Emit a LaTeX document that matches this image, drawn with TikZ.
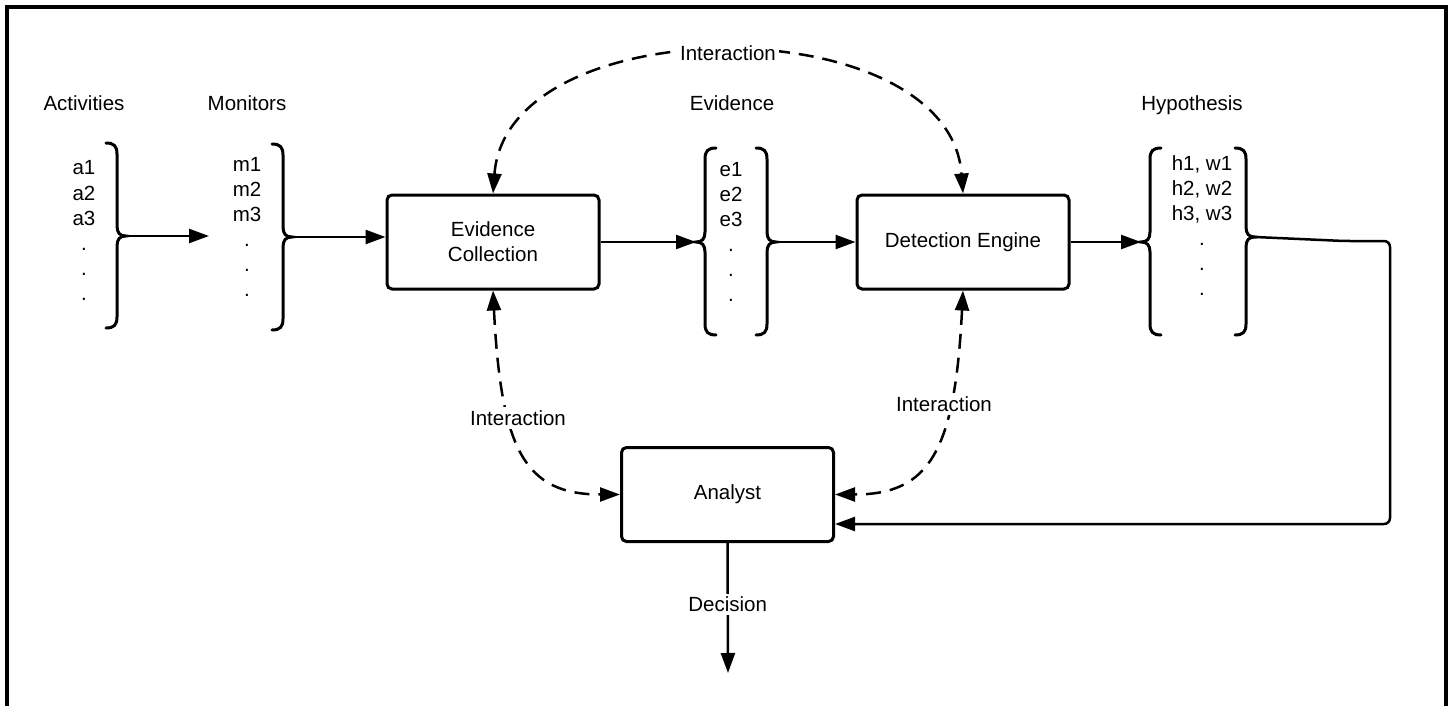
\documentclass[tikz,border=0pt]{standalone}
\usepackage{fontspec}
\setmainfont{Liberation Sans}
\usetikzlibrary{arrows.meta,positioning,calc}

% curly brackets drawn by hand: name, x of stem, top, tip, bottom
\newcommand{\closingbrace}[5]{%
  \draw[brace] (#2-11,#3) .. controls (#2-3,#3) and (#2,#3+3) .. (#2,#3+11)
    -- (#2,#4-10) .. controls (#2,#4-3) and (#2+3,#4) .. (#2+9,#4)
    .. controls (#2+3,#4) and (#2,#4+3) .. (#2,#4+10)
    -- (#2,#5-11) .. controls (#2,#5-3) and (#2-3,#5) .. (#2-11,#5);
  \coordinate (#1) at (#2+9,#4);}
\newcommand{\openingbrace}[5]{%
  \draw[brace] (#2+11,#3) .. controls (#2+3,#3) and (#2,#3+3) .. (#2,#3+11)
    -- (#2,#4-10) .. controls (#2,#4-3) and (#2-3,#4) .. (#2-9,#4)
    .. controls (#2-3,#4) and (#2,#4+3) .. (#2,#4+10)
    -- (#2,#5-11) .. controls (#2,#5-3) and (#2+3,#5) .. (#2+11,#5);
  \coordinate (#1) at (#2-9,#4);}

\tikzset{
  block/.style={draw, line width=3pt, rounded corners=5pt, minimum width=212pt, minimum height=94pt, align=center},
  flow/.style={line width=2.5pt, -{Triangle[length=20pt,width=14pt]}},
  talk/.style={line width=2.5pt, dash pattern=on 15pt off 9pt, {Triangle[length=20pt,width=14pt]}-{Triangle[length=20pt,width=14pt]}},
  brace/.style={line width=3pt, line cap=round},
  heading/.style={anchor=base, inner sep=0pt},
  listitem/.style={anchor=base, inner sep=0pt},
  tag/.style={fill=white, inner sep=3pt},
}

\begin{document}
\begin{tikzpicture}[x=1pt, y=-1pt, font=\fontsize{20.5}{25}\selectfont]
    \useasboundingbox (0,0) rectangle (1453,706);
    \draw[line width=3.5pt] (7,706) -- (7,7) -- (1446,7) -- (1446,706);

    % column headings
    \node[heading] (acthead) at (84,111) {Activities};
    \node[heading] (monhead) at (247,111) {Monitors};
    \node[heading] (evhead) at (732,111) {Evidence};
    \node[heading] (hyphead) at (1192,111) {Hypothesis};

    % lists
    \foreach \t [count=\i from 0] in {a1,a2,a3,.,.,.}
      \node[listitem] (act\i) at (84,175+25*\i) {\t};
    \foreach \t [count=\i from 0] in {m1,m2,m3,.,.,.}
      \node[listitem] (mon\i) at (247,171+25*\i) {\t};
    \foreach \t [count=\i from 0] in {e1,e2,e3,.,.,.}
      \node[listitem] (ev\i) at (731,176+25*\i) {\t};
    \foreach \t [count=\i from 0] in {{h1, w1},{h2, w2},{h3, w3},.,.,.}
      \node[listitem] (hyp\i) at (1202,170+25*\i) {\t};

    \closingbrace{actR}{117}{143}{236}{328}
    \closingbrace{monR}{283}{144}{237}{330}
    \openingbrace{evL}{705}{148}{242}{335}
    \closingbrace{evR}{767}{148}{242}{335}
    \openingbrace{hypL}{1150}{148}{242}{335}
    \closingbrace{hypR}{1246}{148}{237}{335}

    % boxes
    \node[block] (ec) at (493,242) {Evidence\\Collection};
    \node[block] (de) at (963,242) {Detection Engine};
    \node[block] (an) at (727.5,494.5) {Analyst};

    \coordinate (monin) at (209,236);
    \coordinate (fbturn) at (1344,241);
    \coordinate (fbcorner) at (1390,524);
    \coordinate (decout) at (728,673);

    \draw[flow] (actR) -- (monin);
    \draw[flow] (monR) -- (ec.west |- monR);
    \draw[flow] (ec.east) -- (evL);
    \draw[flow] (evR) -- (de.west);
    \draw[flow] (de.east) -- (hypL);
    \draw[flow, rounded corners=6pt] (hypR) -- (fbturn) -| (fbcorner) -- (an.east |- fbcorner);
    \draw[flow] (an.south) -- node[tag, pos=0.47] (dec) {Decision} (decout);

    % interactions
    \draw[talk] (ec.north) .. controls +(14,-187) and +(-14,-187) .. node[tag, pos=0.5] (inttop) {Interaction} (de.north);
    \draw[talk] (ec.south) .. controls +(8,160) and +(-95,0) .. (an.west);
    \draw[talk] (de.south) .. controls +(-8,160) and +(95,0) .. (an.east);
    \node[tag] (intleft) at (518,418) {Interaction};
    \node[tag] (intright) at (944,404) {Interaction};
\end{tikzpicture}
\end{document}
